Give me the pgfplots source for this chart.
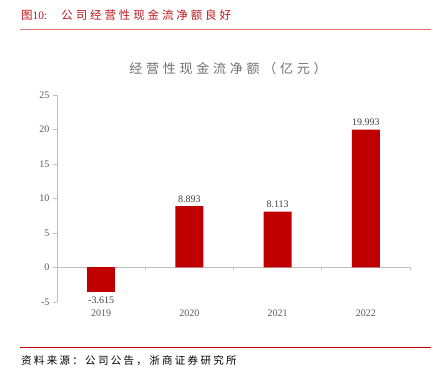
\documentclass[border=0pt]{standalone}
\usepackage{pgfplots}
\pgfplotsset{compat=1.18}
\usepackage{fontspec}
\setmainfont{Liberation Serif}
\newfontfamily\cjk{Noto Sans CJK SC}
\newfontfamily\cjkA[LetterSpace=25]{Noto Sans CJK SC}
\newfontfamily\cjkB[LetterSpace=22]{Noto Sans CJK SC}
\newfontfamily\cjkC[LetterSpace=29]{Noto Sans CJK SC}
\definecolor{barred}{HTML}{C00000}
\definecolor{titlered}{HTML}{C0151B}
\definecolor{titleline}{HTML}{E57373}
\definecolor{txtgray}{HTML}{595959}
\definecolor{ttlgray}{HTML}{707070}
\definecolor{axgray}{HTML}{BFBFBF}
\begin{document}
\begin{tikzpicture}
\path[use as bounding box] (0,0) rectangle (433pt,379pt);
\node[anchor=west, text=titlered, font=\fontsize{11.5}{13}\selectfont, inner sep=0pt] at (21pt,364pt) {{\cjk 图}10:\hspace{14pt}{\cjkA 公司经营性现金流净额良好}};
\draw[titleline, line width=1.2pt] (20pt,349.5pt) -- (431pt,349.5pt);
\draw[barred, line width=0.8pt] (20pt,32pt) -- (431pt,32pt);
\node[anchor=west, font=\fontsize{10.5}{12}\selectfont, inner sep=0pt] at (21pt,18pt) {\cjkB 资料来源：公司公告，浙商证券研究所};
\node[text=ttlgray, font=\fontsize{13}{15}\selectfont\cjkC] at (228pt,310pt) {经营性现金流净额（亿元）};
\begin{axis}[
  at={(57pt,77pt)}, anchor=south west,
  scale only axis, width=353pt, height=207pt,
  ymin=-5, ymax=25, xmin=-0.5, xmax=3.5,
  ytick={-5,0,5,10,15,20,25},
  xtick={0,1,2,3}, xticklabels={2019,2020,2021,2022},
  axis lines*=left,
  x axis line style={draw=none},
  y axis line style={axgray, line width=0.8pt},
  xtick style={draw=none},
  ytick style={axgray, line width=0.8pt},
  tick align=outside, major tick length=4pt,
  tick label style={text=txtgray, font=\fontsize{10}{12}\selectfont},
  /pgf/number format/assume math mode=true,
  clip=false,
  ybar, bar width=28pt, bar shift=0pt,
  point meta=explicit symbolic,
  nodes near coords,
  every node near coord/.append style={text=black!75, font=\fontsize{10}{12}\selectfont},
]
\draw[axgray, line width=0.8pt] (axis cs:-0.5,0) -- (axis cs:3.5,0);
\draw[axgray, line width=0.8pt] (axis cs:0.5,0) -- ([yshift=-3pt]axis cs:0.5,0);
\draw[axgray, line width=0.8pt] (axis cs:1.5,0) -- ([yshift=-3pt]axis cs:1.5,0);
\draw[axgray, line width=0.8pt] (axis cs:2.5,0) -- ([yshift=-3pt]axis cs:2.5,0);
\draw[axgray, line width=0.8pt] (axis cs:3.5,0) -- ([yshift=-3pt]axis cs:3.5,0);
\addplot[fill=barred, draw=none] coordinates {(1,8.893) [8.893] (2,8.113) [8.113] (3,19.993) [19.993]};
\addplot[fill=barred, draw=none, every node near coord/.append style={anchor=north, yshift=-1pt}] coordinates {(0,-3.615) [-3.615]};
\end{axis}
\end{tikzpicture}
\end{document}
